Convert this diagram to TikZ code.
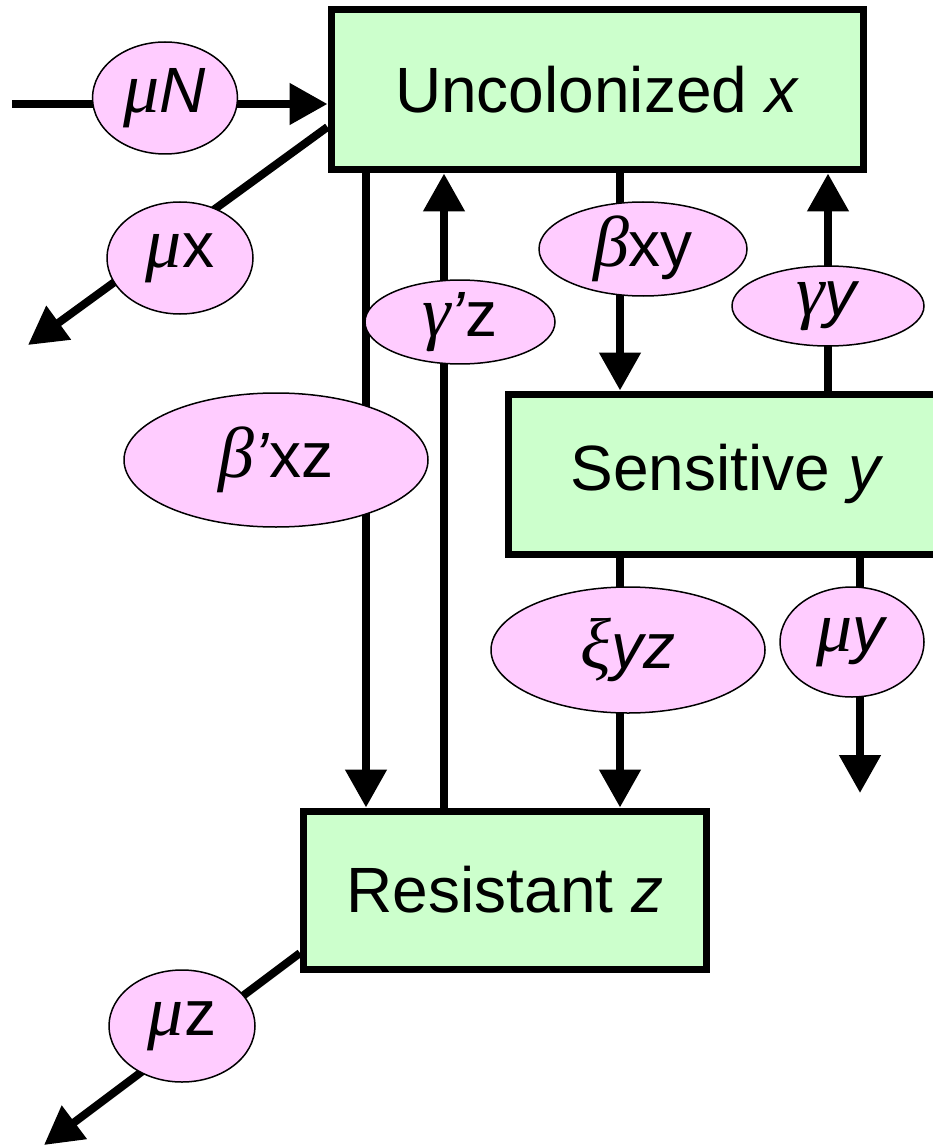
\documentclass[tikz,border=0pt]{standalone}
\usepackage{fontspec}
\setmainfont{Liberation Sans}
\newfontfamily\greekfont{Liberation Serif}
\usetikzlibrary{arrows.meta,shapes.geometric}
\definecolor{boxgreen}{HTML}{CCFFCC}
\definecolor{ratepink}{HTML}{FFCCFF}
\newcommand{\gk}[1]{{\greekfont\itshape\fontsize{72}{72}\selectfont #1}}

\begin{document}
\begin{tikzpicture}[x=1pt, y=-1pt, >/.tip={Triangle[length=38pt,width=40pt]},
    box/.style={draw, line width=7pt, fill=boxgreen, inner sep=0pt},
    rate/.style={ellipse, draw, line width=1.5pt, fill=ratepink, inner sep=0pt},
    flow/.style={->, line width=8pt},
    font=\fontsize{64}{72}\selectfont]
    \useasboundingbox (0,0) rectangle (933,1147);
    \node [box, minimum width=532pt, minimum height=160pt] (X) at (597,90) {Uncolonized \textit{x}};
    \node [box, minimum width=438pt, minimum height=160pt] (Y) at (727,474) {Sensitive \textit{y}};
    \node [box, minimum width=403pt, minimum height=158pt] (Z) at (505,890) {Resistant \textit{z}};
    \coordinate (in) at (12,104);
    \coordinate (xout) at (28,345);
    \coordinate (yout) at (860,793);
    \coordinate (zout) at (44,1145);
    \draw [flow] (in) -- (X.west |- in);
    \draw [flow] (X.west |- 0,127) -- (xout);
    \foreach \a/\b/\c in {X.south/Z.north/366, Z.north/X.south/444, X.south/Y.north/620,
                          Y.north/X.south/828, Y.south/Z.north/620} {
        \draw [flow] (\a -| \c,0) -- (\b -| \c,0);
    }
    \draw [flow] (Y.south -| yout) -- (yout);
    \draw [flow] (Z.west |- 0,953) -- (zout);
    \node [rate, minimum width=145pt, minimum height=112pt] (muN) at (165,98) {\gk{μ}\textit{N}};
    \node [rate, minimum width=146pt, minimum height=112pt] (mux) at (180,258) {\gk{μ}x};
    \node [rate, minimum width=190pt, minimum height=80pt] (gz) at (460,322) {\gk{γ}\textit{’}z};
    \node [rate, minimum width=208pt, minimum height=94pt] (bxy) at (643,249) {\gk{β}xy};
    \node [rate, minimum width=192pt, minimum height=80pt] (gy) at (828,306) {\gk{γ}\textit{y}};
    \node [rate, minimum width=304pt, minimum height=134pt] (bxz) at (276,460) {\gk{β}\textit{’}xz};
    \node [rate, minimum width=274pt, minimum height=126pt] (xyz) at (628,650) {\gk{ξ}\textit{yz}};
    \node [rate, minimum width=144pt, minimum height=110pt] (muy) at (852,642) {\gk{μ}\textit{y}};
    \node [rate, minimum width=146pt, minimum height=112pt] (muz) at (182,1026) {\gk{μ}z};
\end{tikzpicture}
\end{document}
